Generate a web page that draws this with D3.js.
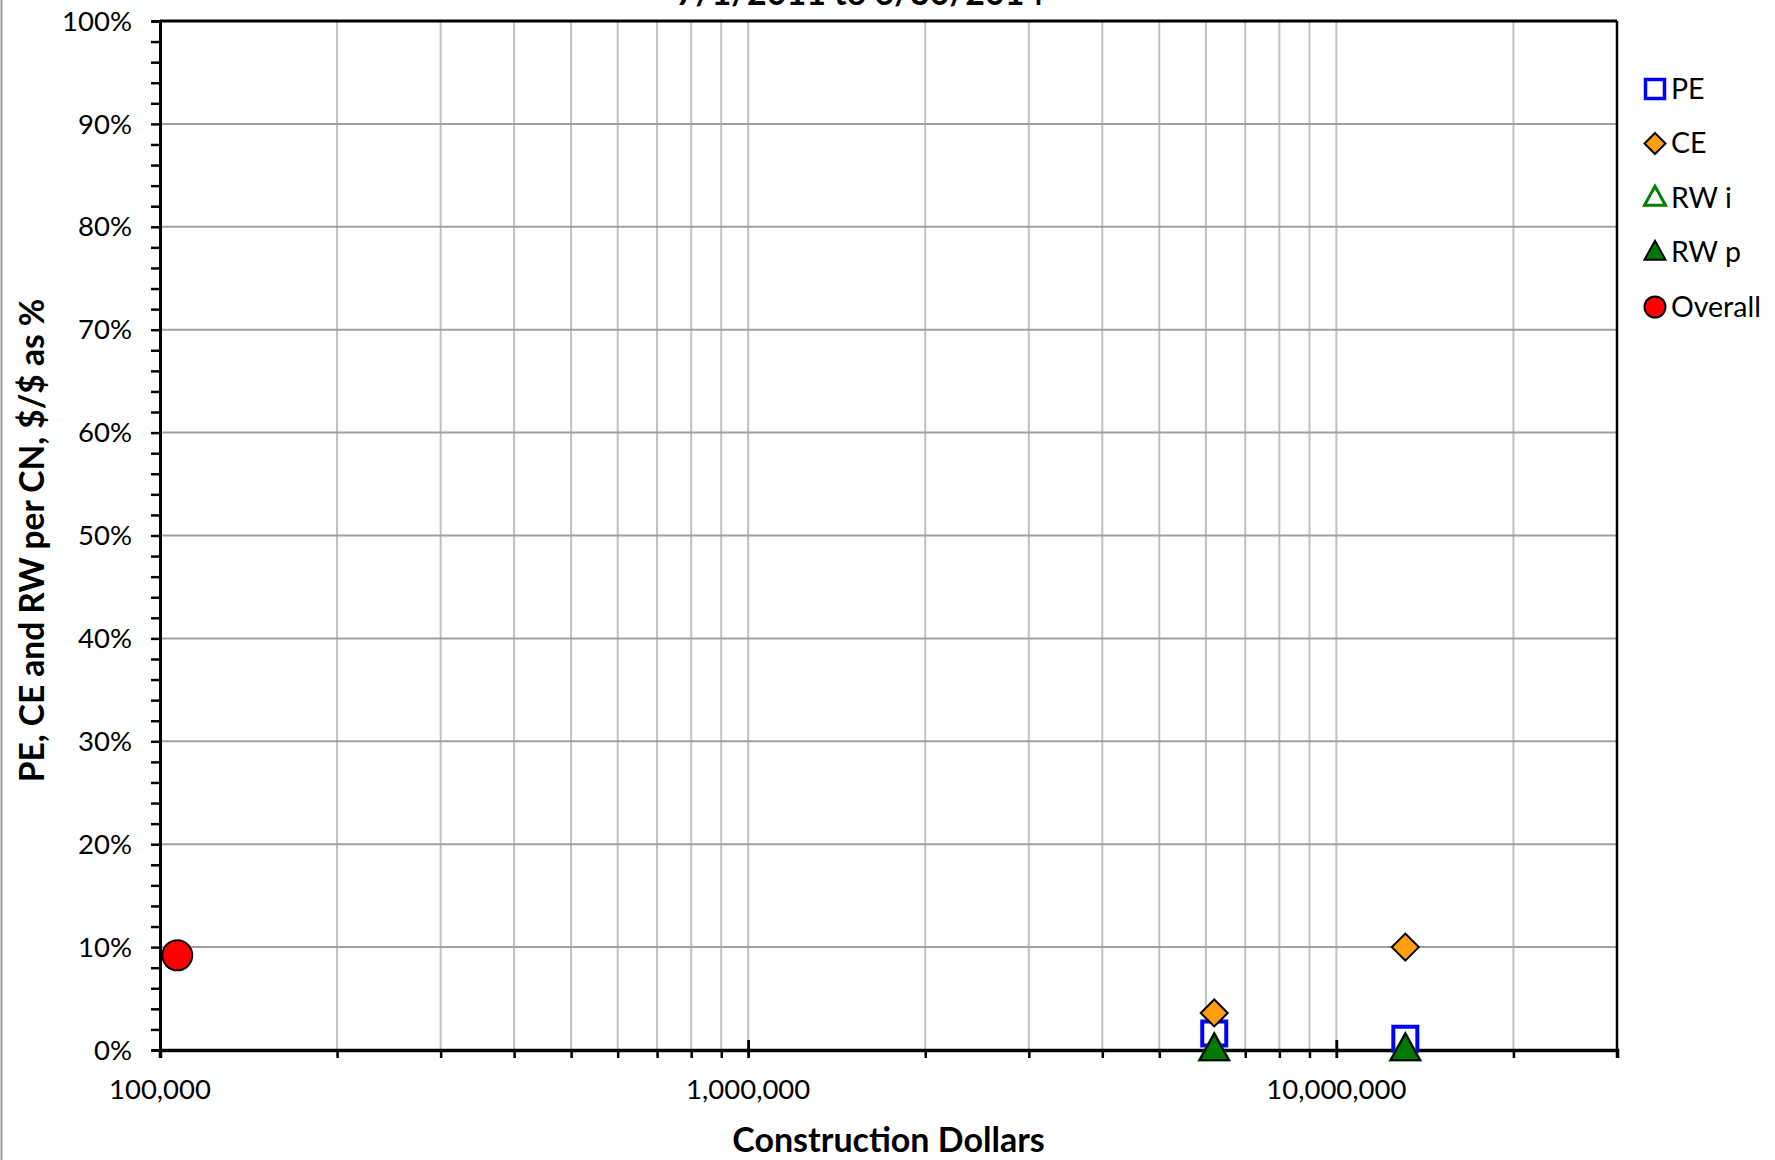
<!DOCTYPE html>
<html>
<head>
<meta charset="utf-8">
<script src="https://cdn.jsdelivr.net/npm/d3@7"></script>
<style>
html,body{margin:0;padding:0;background:#fff;}
svg{display:block;font-family:Lato,"Open Sans",sans-serif;}
</style>
</head>
<body>
<svg id="chart" width="1775" height="1160"></svg>
<script>
// ---- data ----
const titleText = "7/1/2011 to 6/30/2014";
const xTitle = "Construction Dollars";
const yTitle = "PE, CE and RW per CN, $/$ as %";
const xTickValues = [100000, 1000000, 10000000];
const xTickLabels = ["100,000", "1,000,000", "10,000,000"];
const yTickValues = [0, 10, 20, 30, 40, 50, 60, 70, 80, 90, 100];
const seriesNames = ["PE", "CE", "RW i", "RW p", "Overall"];
const peX = [6200000, 13100000];
const peY = [1.6, 1.1];
const ceX = [6200000, 13100000];
const ceY = [3.6, 10.0];
const rwiX = [6200000, 13100000];
const rwiY = [0, 0];
const rwpX = [6200000, 13100000];
const rwpY = [0, 0];
const overallX = [107000];
const overallY = [9.2];

// ---- layout ----
const svg = d3.select("#chart");
const L = 160, R = 1617, T = 21, B = 1050;
const x = d3.scaleLog().domain([100000, 30000000]).range([L, R]);
const y = d3.scaleLinear().domain([0, 100]).range([B, T]);

// left chart border
svg.append("line").attr("x1", 1.5).attr("x2", 1.5).attr("y1", 0).attr("y2", 1160)
  .attr("stroke", "#9a9a9a").attr("stroke-width", 2);

// vertical grid (log minor)
const xGrid = [];
for (let d = 100000; d <= 30000000; d *= 10) {
  for (let m = 1; m <= 9; m++) { const v = d * m; if (v > 100000 && v < 30000000) xGrid.push(v); }
}
svg.append("g").selectAll("line").data(xGrid).join("line")
  .attr("x1", d => x(d)).attr("x2", d => x(d)).attr("y1", T).attr("y2", B)
  .attr("stroke", "#c0c0c0").attr("stroke-width", 2);

// horizontal grid
svg.append("g").selectAll("line").data(yTickValues.filter(v => v > 0 && v < 100)).join("line")
  .attr("x1", L).attr("x2", R).attr("y1", d => y(d)).attr("y2", d => y(d))
  .attr("stroke", "#a0a0a0").attr("stroke-width", 2);

// frame
svg.append("line").attr("x1", L).attr("x2", R).attr("y1", T).attr("y2", T).attr("stroke", "#000").attr("stroke-width", 3);
svg.append("line").attr("x1", R).attr("x2", R).attr("y1", T).attr("y2", B).attr("stroke", "#000").attr("stroke-width", 2.5);

// y axis
const yMinor = d3.range(0, 101, 2);
const yAxis = d3.axisLeft(y).tickValues(yMinor).tickSize(9).tickFormat("");
const gy = svg.append("g").attr("transform", `translate(${L},0)`).call(yAxis);
gy.select(".domain").attr("stroke-width", 3);
gy.selectAll(".tick line").attr("stroke-width", 2.5);
svg.append("g").selectAll("text").data(yTickValues).join("text")
  .attr("x", L - 28).attr("y", d => y(d)).attr("dy", "0.35em")
  .attr("text-anchor", "end").attr("font-size", 27.5).attr("fill", "#000")
  .text(d => d + "%");

// x axis
const xAxis = d3.axisBottom(x).tickValues(xGrid.concat(xTickValues, [30000000])).tickSize(8).tickFormat("");
const gx = svg.append("g").attr("transform", `translate(0,${B})`).call(xAxis);
gx.select(".domain").attr("stroke-width", 3.5);
gx.selectAll(".tick line").attr("stroke-width", 2.5)
  .attr("y1", d => xTickValues.includes(d) ? -10 : 0);
svg.append("g").selectAll("text").data(xTickValues).join("text")
  .attr("x", d => x(d)).attr("y", B + 49)
  .attr("text-anchor", "middle").attr("font-size", 27.5).attr("fill", "#000")
  .text((d, i) => xTickLabels[i]);

// titles
svg.append("text").attr("x", (L + R) / 2).attr("y", 1152).attr("text-anchor", "middle")
  .attr("font-size", 34).attr("font-weight", "bold").text(xTitle);
svg.append("text").attr("transform", `translate(44,${(T + B) / 2 + 5}) rotate(-90)`)
  .attr("text-anchor", "middle").attr("font-size", 33.5).attr("font-weight", "bold").text(yTitle);
svg.append("text").attr("x", 860).attr("y", 5).attr("text-anchor", "middle")
  .attr("font-size", 34).attr("font-weight", "bold").text(titleText);

// marker shapes
function shapePath(kind, s) {
  const h = s / 2;
  if (kind === "square") return `M${-h},${-h}H${h}V${h}H${-h}Z`;
  if (kind === "diamond") return `M0,${-h}L${h},0L0,${h}L${-h},0Z`;
  if (kind === "triangle") { const th = s * 0.9; return `M0,${-th * 0.62}L${h},${th * 0.38}L${-h},${th * 0.38}Z`; }
  if (kind === "circle") return `M${h},0A${h},${h} 0 1,1 ${-h},0A${h},${h} 0 1,1 ${h},0Z`;
}
const styles = [
  {kind: "square", fill: "#fff", stroke: "#0000ff", sw: 4, size: 24, lsize: 19},
  {kind: "diamond", fill: "#ff9e0f", stroke: "#000", sw: 2, size: 27, lsize: 21},
  {kind: "triangle", fill: "#fff", stroke: "#008000", sw: 3, size: 29, lsize: 21},
  {kind: "triangle", fill: "#007a00", stroke: "#000", sw: 2, size: 29, lsize: 21},
  {kind: "circle", fill: "#ff0000", stroke: "#000", sw: 2, size: 30, lsize: 21}
];
const seriesData = [
  d3.zip(peX, peY), d3.zip(ceX, ceY), d3.zip(rwiX, rwiY), d3.zip(rwpX, rwpY), d3.zip(overallX, overallY)
];
seriesData.forEach((pts, i) => {
  const st = styles[i];
  svg.append("g").selectAll("path").data(pts).join("path")
    .attr("transform", d => `translate(${x(d[0])},${y(d[1])})`)
    .attr("d", shapePath(st.kind, st.size))
    .attr("fill", st.fill).attr("stroke", st.stroke).attr("stroke-width", st.sw)
    .attr("stroke-linejoin", "miter");
});

// legend
const lg = svg.append("g");
seriesNames.forEach((name, i) => {
  const st = styles[i];
  const cy = 89 + i * 54.5;
  lg.append("path").attr("transform", `translate(1655,${cy})`)
    .attr("d", shapePath(st.kind, st.lsize))
    .attr("fill", st.fill).attr("stroke", st.stroke).attr("stroke-width", st.kind === "square" ? 3.5 : st.sw);
  lg.append("text").attr("x", 1671).attr("y", cy).attr("dy", "0.35em")
    .attr("font-size", 28.5).attr("fill", "#000").text(name);
});
</script>
</body>
</html>
